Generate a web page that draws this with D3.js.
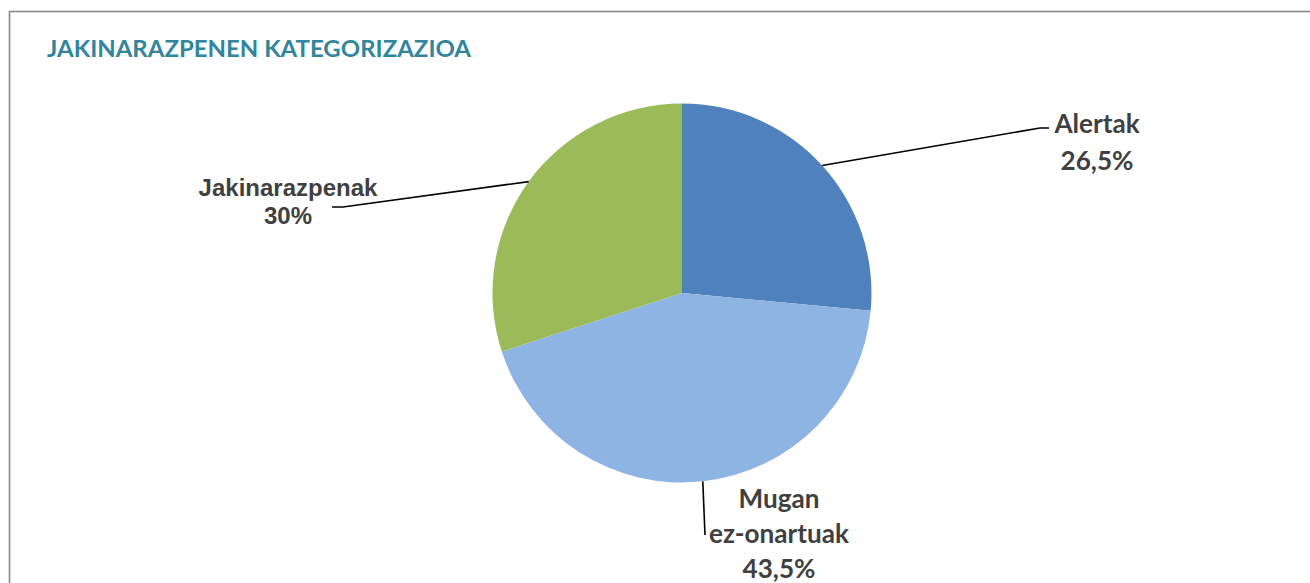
<!DOCTYPE html>
<html>
<head>
<meta charset="utf-8">
<script src="https://cdn.jsdelivr.net/npm/d3@7"></script>
<style>
html,body{margin:0;padding:0;background:#fff;}
svg{display:block;}
</style>
</head>
<body>
<svg id="chart" width="1310" height="583"></svg>
<script>
// ---- data ----
const title = "JAKINARAZPENEN KATEGORIZAZIOA";
const categories = ["Alertak", "Mugan ez-onartuak", "Jakinarazpenak"];
const labelLines = [["Alertak"], ["Mugan", "ez-onartuak"], ["Jakinarazpenak"]];
const values = [26.5, 43.5, 30];
const valueLabels = ["26,5%", "43,5%", "30%"];
const colors = ["#4F81BD", "#8EB4E3", "#9BBB59"];

// ---- layout ----
const W = 1310, H = 583;
const cx = 682, cy = 293, R = 189.5;
const calibriLike = "Lato, 'Open Sans', sans-serif";
const arialLike = "'Liberation Sans', Arial, sans-serif";
// label anchor (text centre x, first baseline y), leader elbow/end, font family
const labelLayout = [
  {x: 1097, y: 133, lh: 37, font: calibriLike, elbow: [1040, 128], end: [1049, 128]},
  {x: 779, y: 508, lh: 35, font: calibriLike, elbow: null, end: [705, 535]},
  {x: 288, y: 196, lh: 28, font: arialLike, elbow: [343, 207], end: [332, 207]}
];

const svg = d3.select("#chart");

// border
svg.append("rect")
  .attr("x", 9.5).attr("y", 11.5)
  .attr("width", 1400).attr("height", 700)
  .attr("fill", "none").attr("stroke", "#8a8a8a").attr("stroke-width", 1.6);

function fitSize(family, weight, text, target) {
  const t = svg.append("text").attr("font-family", family).attr("font-weight", weight)
    .attr("font-size", 100).text(text);
  const w = t.node().getComputedTextLength();
  t.remove();
  return 100 * target / w;
}

// title (slightly condensed to mimic Calibri proportions)
svg.append("text")
  .attr("x", 47).attr("y", 57)
  .attr("font-family", calibriLike).attr("font-weight", 700)
  .attr("font-size", 22.5)
  .attr("textLength", 424).attr("lengthAdjust", "spacingAndGlyphs")
  .attr("fill", "#31859C")
  .text(title);

// pie
const pie = d3.pie().sort(null).value(d => d)
  .startAngle(0).endAngle(2 * Math.PI);
const arcs = pie(values);
const arc = d3.arc().innerRadius(0).outerRadius(R);

const g = svg.append("g").attr("transform", `translate(${cx},${cy})`);
g.selectAll("path.slice").data(arcs).enter().append("path")
  .attr("class", "slice")
  .attr("d", arc)
  .attr("fill", (d, i) => colors[i]);

// leader lines
arcs.forEach((d, i) => {
  const L = labelLayout[i];
  const a = (d.startAngle + d.endAngle) / 2;
  const sx = cx + R * Math.sin(a), sy = cy - R * Math.cos(a);
  const pts = [[sx, sy]];
  if (L.elbow) pts.push(L.elbow);
  pts.push(L.end);
  svg.append("path")
    .attr("d", d3.line()(pts))
    .attr("fill", "none").attr("stroke", "#000").attr("stroke-width", 1.6);
});

// labels
const calSize = fitSize(calibriLike, 700, "ez-onartuak", 140);
arcs.forEach((d, i) => {
  const L = labelLayout[i];
  const lines = labelLines[i].concat([valueLabels[i]]);
  const size = L.font === arialLike ? 24 : calSize;
  const t = svg.append("text")
    .attr("font-family", L.font).attr("font-weight", 700)
    .attr("font-size", size).attr("fill", "#404040")
    .attr("text-anchor", "middle");
  lines.forEach((ln, k) => {
    t.append("tspan").attr("x", L.x).attr("y", L.y + k * L.lh).text(ln);
  });
});
</script>
</body>
</html>
